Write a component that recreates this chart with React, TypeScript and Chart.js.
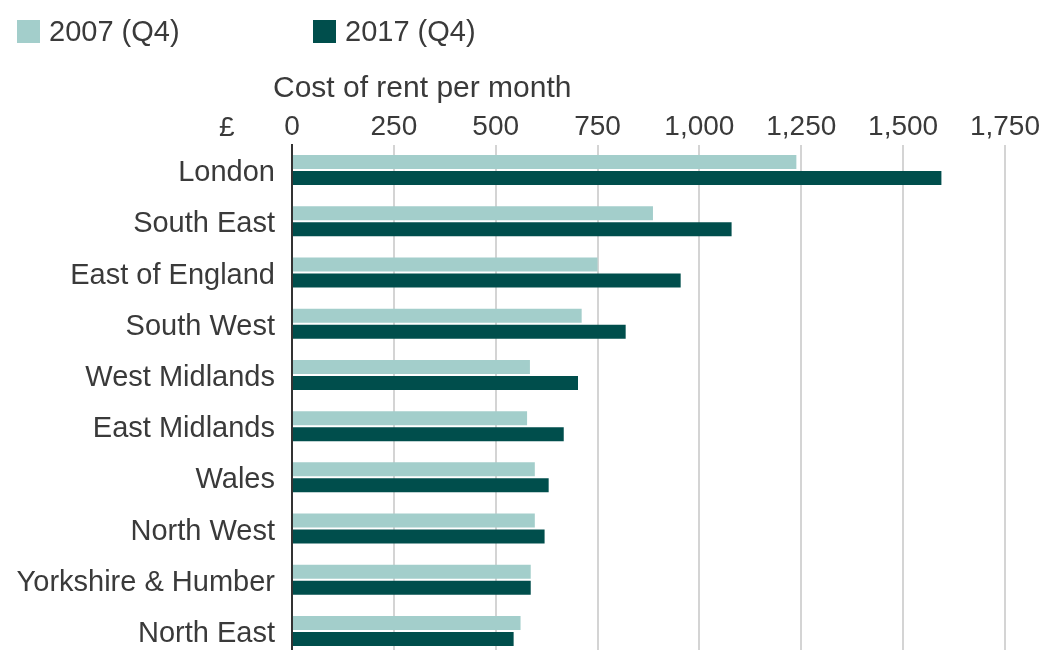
import React, { useEffect, useRef } from "react";
import { Chart, registerables } from "chart.js";

Chart.register(...registerables);

const categories = [
  "London",
  "South East",
  "East of England",
  "South West",
  "West Midlands",
  "East Midlands",
  "Wales",
  "North West",
  "Yorkshire & Humber",
  "North East",
];
const rent2007 = [1238, 886, 750, 711, 584, 577, 596, 596, 586, 561];
const rent2017 = [1594, 1079, 954, 819, 702, 667, 630, 620, 586, 544];
const seriesLabels = ["2007 (Q4)", "2017 (Q4)"];
const axisTitle = "Cost of rent per month";
const currencyLabel = "£";

const LIGHT = "#a3cecb";
const DARK = "#004e4c";
const TEXT = "#3a3a3a";
const FONT = "'Liberation Sans', Arial, Helvetica, sans-serif";

export default function App() {
  const ref = useRef<HTMLCanvasElement | null>(null);

  useEffect(() => {
    document.body.style.margin = "0";
    const canvas = ref.current;
    if (!canvas) return;
    const chart = new Chart(canvas, {
      type: "bar",
      data: {
        labels: categories,
        datasets: [
          {
            label: seriesLabels[0],
            data: rent2007,
            backgroundColor: LIGHT,
            borderWidth: 0,
            categoryPercentage: 0.625,
            barPercentage: 0.875,
          },
          {
            label: seriesLabels[1],
            data: rent2017,
            backgroundColor: DARK,
            borderWidth: 0,
            categoryPercentage: 0.625,
            barPercentage: 0.875,
          },
        ],
      },
      options: {
        indexAxis: "y",
        animation: false,
        responsive: false,
        maintainAspectRatio: false,
        layout: { padding: { top: 0, left: 0, right: 32, bottom: 0 } },
        plugins: {
          legend: { display: false },
          title: { display: false },
          tooltip: { enabled: false },
        },
        scales: {
          x: {
            position: "top",
            min: 0,
            max: 1750,
            ticks: {
              stepSize: 250,
              color: TEXT,
              padding: 0,
              font: { family: FONT, size: 28 },
            },
            grid: { color: "#d4d4d4", lineWidth: 2, drawTicks: false },
            border: { display: false },
            afterFit: (scale: any) => {
              scale.height = 144.5;
            },
          },
          y: {
            ticks: {
              color: TEXT,
              padding: 17,
              labelOffset: 3,
              font: { family: FONT, size: 29 },
            },
            grid: { display: false, drawTicks: false },
            border: { display: true, color: "#333333", width: 2 },
            afterFit: (scale: any) => {
              scale.width = 292;
            },
          },
        },
      },
    });
    return () => chart.destroy();
  }, []);

  const textStyle: React.CSSProperties = {
    position: "absolute",
    fontFamily: FONT,
    color: TEXT,
    whiteSpace: "nowrap",
  };

  return (
    <div style={{ position: "fixed", left: 0, top: 0, width: 1040, height: 650, overflow: "hidden", background: "#fff" }}>
      <canvas ref={ref} width={1040} height={691} style={{ position: "absolute", left: 0, top: 0, width: 1040, height: 691 }} />
      <div style={{ position: "absolute", left: 17, top: 20, width: 23, height: 23, background: LIGHT }} />
      <div style={{ ...textStyle, left: 49, top: 17, fontSize: 29, lineHeight: "29px" }}>{seriesLabels[0]}</div>
      <div style={{ position: "absolute", left: 313, top: 20, width: 23, height: 23, background: DARK }} />
      <div style={{ ...textStyle, left: 345, top: 17, fontSize: 29, lineHeight: "29px" }}>{seriesLabels[1]}</div>
      <div style={{ ...textStyle, left: 273, top: 72, fontSize: 30, lineHeight: "30px" }}>{axisTitle}</div>
      <div style={{ ...textStyle, left: 219, top: 113, fontSize: 28, lineHeight: "28px" }}>{currencyLabel}</div>
    </div>
  );
}
